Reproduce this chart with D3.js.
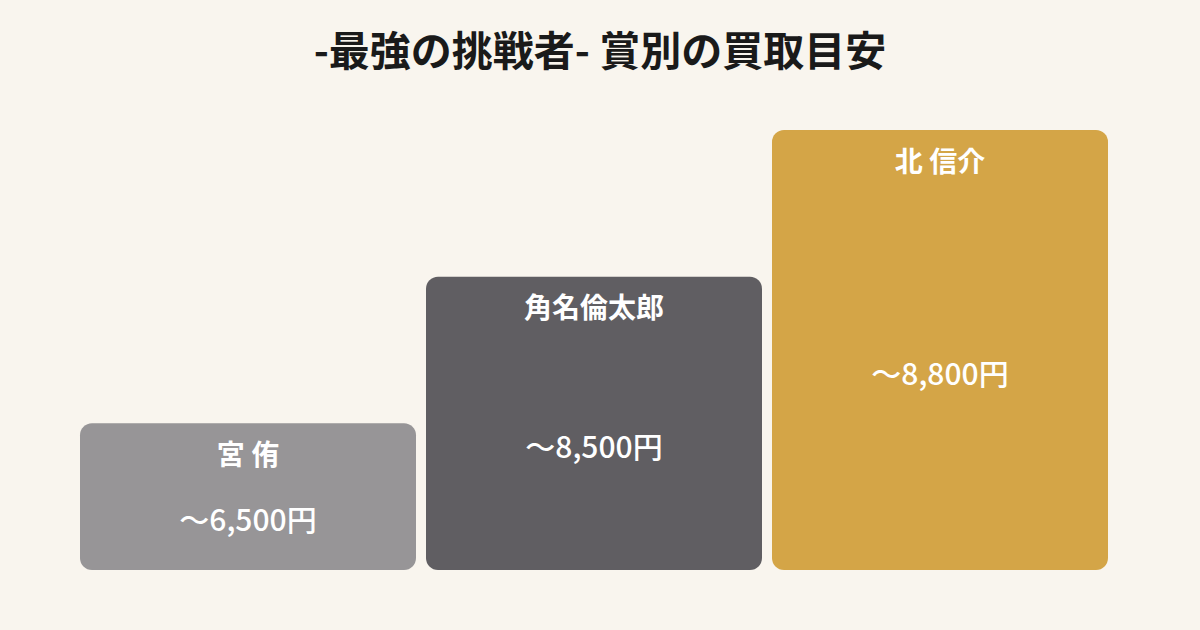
<!DOCTYPE html>
<html><head><meta charset="utf-8">
<script src="https://cdn.jsdelivr.net/npm/d3@7"></script>
<style>
html,body{margin:0;padding:0;background:#f9f5ee;}
svg{display:block;}
text{font-family:"Noto Sans CJK JP","Noto Sans",sans-serif;}
</style></head>
<body>
<svg id="c" width="1200" height="630"></svg>
<script>
const title = "-最強の挑戦者- 賞別の買取目安";
const names = ["宮 侑", "角名倫太郎", "北 信介"];
const prices = [6500, 8500, 8800];
const tiers = [1, 2, 3];
const colors = ["#979597", "#605e62", "#d4a547"];

const W = 1200, H = 630;
const svg = d3.select("#c");
svg.append("rect").attr("width", W).attr("height", H).attr("fill", "#f9f5ee");

svg.append("text").attr("x", W/2).attr("y", 66)
  .attr("text-anchor", "middle").attr("font-size", 41).attr("font-weight", 700)
  .attr("fill", "#1a1a1a").text(title);

const x = d3.scaleBand().domain(names).range([80, 1108]).paddingInner(10/346).paddingOuter(0);
const y = d3.scaleLinear().domain([0, 3]).range([570, 130]);

const data = names.map((n, i) => ({name: n, price: prices[i], tier: tiers[i], color: colors[i]}));
const g = svg.selectAll("g.bar").data(data).join("g").attr("class", "bar");

g.append("rect")
  .attr("x", d => x(d.name)).attr("y", d => y(d.tier))
  .attr("width", x.bandwidth()).attr("height", d => y(0) - y(d.tier))
  .attr("rx", 12).attr("fill", d => d.color);

g.append("text")
  .attr("x", d => x(d.name) + x.bandwidth()/2)
  .attr("y", d => y(d.tier) + 32)
  .attr("dy", "0.35em")
  .attr("text-anchor", "middle").attr("font-size", 28).attr("font-weight", 700)
  .attr("fill", "#ffffff").text(d => d.name);

g.append("text")
  .attr("x", d => x(d.name) + x.bandwidth()/2)
  .attr("y", d => (y(d.tier) + y(0))/2 + 24)
  .attr("dy", "0.35em")
  .attr("text-anchor", "middle").attr("font-size", 30).attr("font-weight", 500)
  .attr("fill", "#ffffff").text(d => "～" + d3.format(",")(d.price) + "円");
</script>
</body></html>
